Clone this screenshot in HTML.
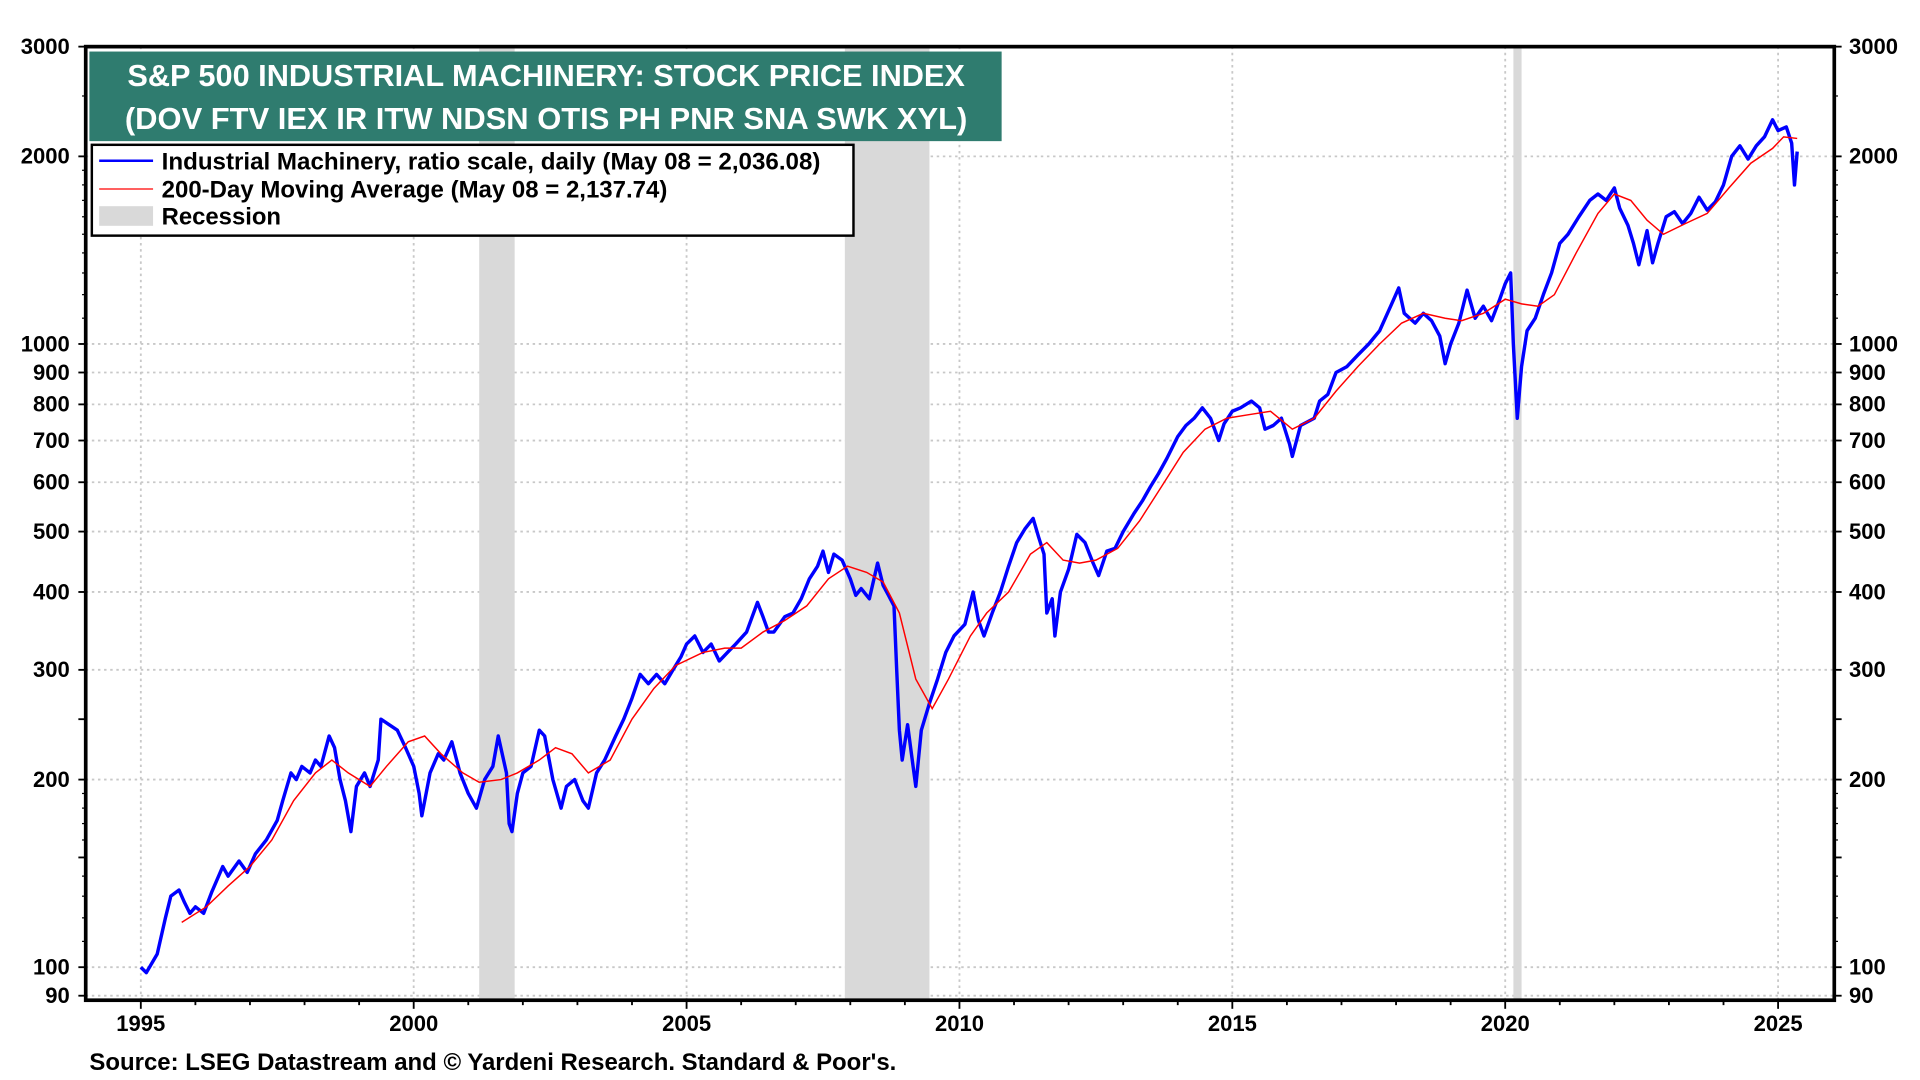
<!DOCTYPE html>
<html><head><meta charset="utf-8"><style>
html,body{margin:0;padding:0;background:#fff;width:1920px;height:1080px;overflow:hidden}
svg{display:block;font-family:"Liberation Sans",Arial,sans-serif}
</style></head><body>
<svg id="chart" width="1920" height="1080" viewBox="0 0 1568 880" preserveAspectRatio="none" xmlns="http://www.w3.org/2000/svg">
<g id="grid"></g>
<g id="rec"></g>
<g id="ser"></g>
<rect x="70" y="38" width="1428" height="777" fill="none" stroke="#000" stroke-width="3"/>
<g id="axes"></g>
<g>
<rect x="73" y="42" width="745" height="73" fill="#2f7c6f"/>
<text x="446" y="70" text-anchor="middle" fill="#fff" font-weight="bold" font-size="25" textLength="684" lengthAdjust="spacingAndGlyphs">S&amp;P 500 INDUSTRIAL MACHINERY: STOCK PRICE INDEX</text>
<text x="446" y="105" text-anchor="middle" fill="#fff" font-weight="bold" font-size="25" textLength="688" lengthAdjust="spacingAndGlyphs">(DOV FTV IEX IR ITW NDSN OTIS PH PNR SNA SWK XYL)</text>
</g>
<g>
<rect x="75" y="118" width="622" height="74" fill="#fff" stroke="#000" stroke-width="2"/>
<line x1="81" y1="131" x2="125" y2="131" stroke="#0000ff" stroke-width="2"/>
<text x="132" y="138" font-size="19.5" font-weight="bold" textLength="538" lengthAdjust="spacingAndGlyphs">Industrial Machinery, ratio scale, daily (May 08 = 2,036.08)</text>
<line x1="81" y1="154" x2="125" y2="154" stroke="#ff0000" stroke-width="1"/>
<text x="132" y="161" font-size="19.5" font-weight="bold" textLength="413" lengthAdjust="spacingAndGlyphs">200-Day Moving Average (May 08 = 2,137.74)</text>
<rect x="81" y="168" width="44" height="16" fill="#d9d9d9"/>
<text x="132" y="183" font-size="19.5" font-weight="bold">Recession</text>
</g>
<text x="73" y="872" font-size="19.5" font-weight="bold" textLength="659" lengthAdjust="spacingAndGlyphs">Source: LSEG Datastream and © Yardeni Research. Standard &amp; Poor's.</text>
</svg>
<script>
const yTicks=[3000,2000,1000,900,800,700,600,500,400,300,200,100,90];
const xTicks=[1995,2000,2005,2010,2015,2020,2025];
const recStart=[2001.2,2007.9,2020.15];
const recEnd=[2001.85,2009.45,2020.3];
const idxDates=[1995.0,1995.1,1995.3,1995.45,1995.55,1995.7,1995.8,1995.9,1996.0,1996.15,1996.3,1996.5,1996.6,1996.8,1996.95,1997.1,1997.3,1997.5,1997.6,1997.75,1997.85,1997.95,1998.1,1998.2,1998.3,1998.45,1998.55,1998.65,1998.75,1998.85,1998.95,1999.1,1999.2,1999.35,1999.4,1999.55,1999.7,1999.85,2000.0,2000.1,2000.15,2000.3,2000.45,2000.55,2000.7,2000.85,2001.0,2001.15,2001.3,2001.45,2001.55,2001.7,2001.75,2001.8,2001.9,2002.0,2002.15,2002.3,2002.4,2002.55,2002.7,2002.8,2002.95,2003.1,2003.2,2003.35,2003.5,2003.7,2003.85,2004.0,2004.15,2004.3,2004.45,2004.6,2004.75,2004.9,2005.0,2005.15,2005.3,2005.45,2005.6,2005.75,2005.9,2006.1,2006.3,2006.4,2006.5,2006.6,2006.8,2006.95,2007.1,2007.25,2007.4,2007.5,2007.6,2007.7,2007.85,2008.0,2008.1,2008.2,2008.35,2008.5,2008.6,2008.7,2008.8,2008.85,2008.9,2008.95,2009.05,2009.15,2009.2,2009.3,2009.45,2009.6,2009.75,2009.9,2010.1,2010.25,2010.35,2010.45,2010.6,2010.75,2010.9,2011.05,2011.2,2011.35,2011.45,2011.55,2011.6,2011.7,2011.75,2011.85,2012.0,2012.15,2012.3,2012.45,2012.55,2012.7,2012.85,2013.0,2013.2,2013.35,2013.5,2013.65,2013.8,2014.0,2014.15,2014.3,2014.45,2014.6,2014.75,2014.85,2015.0,2015.15,2015.35,2015.5,2015.6,2015.75,2015.9,2016.05,2016.1,2016.25,2016.5,2016.6,2016.75,2016.9,2017.1,2017.3,2017.5,2017.7,2017.9,2018.05,2018.15,2018.35,2018.5,2018.65,2018.8,2018.9,2019.0,2019.15,2019.3,2019.45,2019.6,2019.75,2019.9,2020.0,2020.1,2020.15,2020.22,2020.3,2020.4,2020.55,2020.7,2020.85,2021.0,2021.15,2021.35,2021.55,2021.7,2021.85,2022.0,2022.1,2022.25,2022.35,2022.45,2022.6,2022.7,2022.8,2022.95,2023.1,2023.25,2023.4,2023.55,2023.7,2023.85,2024.0,2024.15,2024.3,2024.45,2024.6,2024.75,2024.9,2025.0,2025.15,2025.25,2025.3,2025.35];
const idxValues=[100,98,105,120,130,133,127,122,125,122,132,145,140,148,142,152,160,172,185,205,200,210,205,215,210,235,225,200,185,165,195,205,195,215,250,245,240,225,210,190,175,205,220,215,230,205,190,180,200,210,235,205,170,165,190,205,210,240,235,200,180,195,200,185,180,205,215,235,250,270,295,285,295,285,300,315,330,340,320,330,310,320,330,345,385,365,345,345,365,370,390,420,440,465,430,460,450,420,395,405,390,445,410,395,380,300,240,215,245,210,195,240,265,290,320,340,355,400,360,340,370,400,440,480,505,525,490,460,370,390,340,400,435,495,480,445,425,465,470,500,535,560,590,620,655,710,740,760,790,760,700,745,780,790,810,790,730,740,760,690,660,740,760,810,830,900,920,960,1000,1050,1150,1230,1120,1080,1120,1090,1030,930,1000,1080,1220,1100,1150,1090,1180,1250,1300,1000,760,920,1050,1100,1200,1300,1450,1500,1600,1700,1740,1700,1780,1650,1550,1450,1340,1520,1350,1450,1600,1630,1560,1620,1720,1640,1690,1800,2000,2080,1980,2080,2150,2290,2200,2230,2100,1800,2036];
const maDates=[1995.75,1996.2,1996.6,1997.0,1997.4,1997.8,1998.2,1998.5,1998.8,1999.2,1999.5,1999.9,2000.2,2000.5,2000.9,2001.2,2001.6,2001.9,2002.3,2002.6,2002.9,2003.2,2003.6,2004.0,2004.4,2004.8,2005.3,2005.7,2006.0,2006.4,2006.8,2007.2,2007.6,2007.95,2008.3,2008.6,2008.9,2009.2,2009.5,2009.8,2010.2,2010.5,2010.9,2011.3,2011.6,2011.9,2012.2,2012.5,2012.9,2013.3,2013.7,2014.1,2014.5,2014.9,2015.3,2015.7,2016.1,2016.5,2016.9,2017.3,2017.7,2018.1,2018.5,2018.9,2019.2,2019.6,2020.0,2020.3,2020.6,2020.9,2021.3,2021.7,2022.0,2022.3,2022.6,2022.9,2023.3,2023.7,2024.1,2024.5,2024.9,2025.1,2025.35];
const maValues=[118,125,135,145,160,185,205,215,205,195,210,230,235,220,205,198,200,205,215,225,220,205,215,250,280,305,320,325,325,345,360,380,420,440,430,415,370,290,260,290,340,370,400,460,480,450,445,450,470,520,590,670,730,760,770,780,730,760,840,920,1000,1080,1120,1100,1090,1120,1180,1160,1150,1200,1400,1620,1740,1700,1580,1500,1560,1620,1780,1950,2060,2150,2137];

const NS="http://www.w3.org/2000/svg";
const L=70,R=1498,T=38,B=815;
function xS(t){return 115+(t-1995)*44.57;}
function yS(v){return 38+Math.log10(3000/v)*507.8;}
function mk(tag,attrs,parent){const e=document.createElementNS(NS,tag);for(const k in attrs)e.setAttribute(k,attrs[k]);parent.appendChild(e);return e;}
const grid=document.getElementById('grid'),rec=document.getElementById('rec'),ser=document.getElementById('ser'),axes=document.getElementById('axes');

yTicks.forEach(v=>{
  const y=yS(v);
  if(v<3000){
    const g=mk('line',{x1:L,x2:R,y1:y,y2:y,stroke:'#c8c8c8','stroke-width':1.5,'stroke-dasharray':'2 3'},grid);
    
    
  }
  const t1=mk('text',{x:57,y:y+6,'text-anchor':'end','font-size':18,'font-weight':'bold'},axes);
  t1.textContent=v;
  
  
  const t2=mk('text',{x:1510,y:y+6,'text-anchor':'start','font-size':18,'font-weight':'bold'},axes);
  t2.textContent=v;
  
  
});
[90,100,200,300,400,500,600,700,800,900,1000,2000,3000,150,250].forEach(v=>{
  const y=yS(v);
  mk('line',{x1:L-6,x2:L,y1:y,y2:y,stroke:'#000','stroke-width':1.5},axes);
  mk('line',{x1:R,x2:R+6,y1:y,y2:y,stroke:'#000','stroke-width':1.5},axes);
});
[110,120,130,140,160,170,180,190,1100,1200,1300,1400,1500,1600,1700,1800,1900,2500].forEach(v=>{
  const y=yS(v);
  mk('line',{x1:L-3,x2:L,y1:y,y2:y,stroke:'#000','stroke-width':1},axes);
  mk('line',{x1:R,x2:R+3,y1:y,y2:y,stroke:'#000','stroke-width':1},axes);
});
xTicks.forEach(t=>{
  const x=xS(t);
  const g=mk('line',{x1:x,x2:x,y1:T,y2:B,stroke:'#c8c8c8','stroke-width':1.5,'stroke-dasharray':'2 3'},grid);
  
  
  const tx=mk('text',{x:x,y:840,'text-anchor':'middle','font-size':18,'font-weight':'bold'},axes);
  tx.textContent=t;
  
  
});
for(let yr=1995;yr<=2025;yr++){const x=xS(yr);mk('line',{x1:x,x2:x,y1:B,y2:B+(yr%5===0?7:4),stroke:'#000','stroke-width':1.5},axes);}

recStart.forEach((s,i)=>{
  const r=mk('rect',{x:xS(s),y:T,width:Math.max(xS(recEnd[i])-xS(s),5),height:B-T,fill:'#d9d9d9'},rec);
  
  
});
function pathOf(ds,vs){return ds.map((d,i)=>(i?'L':'M')+xS(d).toFixed(1)+' '+yS(vs[i]).toFixed(1)).join(' ');}
const pIdx=mk('path',{d:pathOf(idxDates,idxValues),fill:'none',stroke:'#0000ff','stroke-width':2.8,'stroke-linejoin':'round'},ser);


const pMa=mk('path',{d:pathOf(maDates,maValues),fill:'none',stroke:'#ff0000','stroke-width':1.2},ser);


</script>
</body></html>
